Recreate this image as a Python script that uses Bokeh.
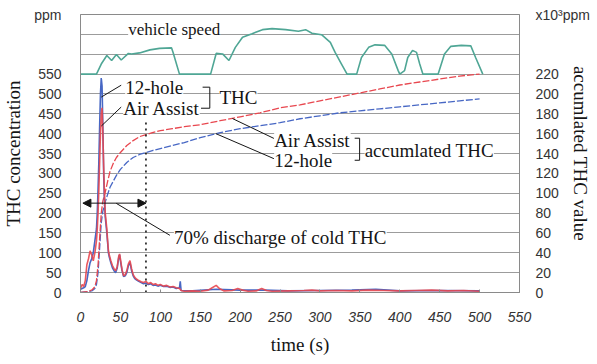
from bokeh.plotting import figure
from bokeh.models import (Range1d, LinearAxis, FixedTicker, Label, Arrow,
                          NormalHead)
from bokeh.embed import file_html
from bokeh.resources import INLINE

# ---------------- data ----------------
# instantaneous THC concentration, ppm
t_12hole = [0, 2, 4, 6, 8, 10, 12, 14, 16, 18, 20, 21, 22, 23, 24, 25, 26, 27, 28, 29,
            30, 31, 32, 33, 34, 35, 36, 38, 40, 42, 44, 46, 48, 49, 50, 52, 54, 56, 58, 60,
            62, 64, 66, 68, 70, 73, 76, 79, 82, 85, 88, 91, 94, 97, 100, 104, 108, 112, 116,
            120, 124, 125, 126, 140, 170, 200, 230, 260, 300, 340, 370, 400, 450, 500]
thc_12hole = [8, 10, 12, 15, 30, 55, 75, 85, 100, 130, 160, 200, 260, 330, 420, 500, 540, 520, 420, 300,
              230, 190, 170, 150, 125, 100, 90, 75, 62, 55, 50, 62, 90, 95, 80, 55, 40, 42, 50, 68,
              75, 55, 42, 35, 32, 28, 25, 22, 24, 20, 22, 18, 19, 16, 18, 15, 16, 13, 14,
              10, 12, 28, 5, 4, 8, 6, 6, 4, 5, 6, 8, 4, 5, 4]

t_air = [0, 2, 4, 6, 8, 10, 12, 14, 16, 18, 20, 21, 22, 23, 24, 25, 26, 27, 28, 29,
         30, 31, 32, 33, 34, 35, 36, 38, 40, 42, 44, 46, 48, 49, 50, 52, 54, 56, 58, 60,
         62, 64, 66, 68, 70, 73, 76, 79, 82, 85, 88, 91, 94, 97, 100, 104, 108, 112, 116,
         120, 124, 126, 130, 140, 150, 160, 165, 170, 174, 180, 190, 197, 203, 210, 220,
         227, 233, 240, 260, 280, 290, 300, 320, 340, 360, 380, 400, 420, 440, 460, 480, 500]
thc_air = [10, 20, 15, 30, 70, 85, 105, 95, 80, 100, 130, 160, 200, 260, 330, 400, 450, 465, 400, 320,
           250, 200, 180, 160, 130, 105, 95, 80, 68, 60, 55, 65, 92, 97, 85, 58, 42, 45, 55, 72,
           80, 60, 45, 38, 34, 30, 27, 25, 28, 22, 25, 20, 22, 18, 20, 16, 18, 14, 15,
           12, 10, 5, 3, 4, 3, 6, 12, 18, 10, 4, 5, 10, 6, 3, 4,
           10, 5, 3, 4, 5, 6, 4, 5, 4, 6, 5, 4, 5, 6, 4, 5, 3]

# accumulated THC, x10^3 ppm
t_acc = [0, 10, 15, 18, 20, 22, 24, 26, 28, 31, 34, 37, 41, 45, 50, 58, 66, 74, 82, 90,
         100, 115, 130, 150, 175, 200, 225, 250, 275, 300, 325, 350, 375, 400, 425, 450, 475, 500]
acc_air = [0, 1, 3, 6, 12, 28, 55, 80, 92, 101, 112, 122, 130, 136, 141, 148, 153, 157, 159, 161,
           163, 165, 167, 169, 173, 177, 181, 186, 189, 193, 197, 201, 205, 209, 212, 215, 218, 220]
acc_12hole = [0, 1, 2, 4, 8, 20, 45, 70, 82, 91, 99, 106, 112, 118, 124, 131, 136, 139, 141, 143,
              145, 148, 151, 156, 161, 165, 168, 171, 175, 178, 181, 183, 185, 187, 189, 191, 193, 195]

# vehicle speed, km/h
t_speed = [0, 20, 26, 33, 39, 45, 51, 60, 64, 74, 87, 99, 114, 116, 124, 163, 170, 178, 186,
           194, 203, 215, 228, 240, 257, 273, 282, 290, 302, 313, 319, 327, 334, 346, 352,
           361, 369, 381, 390, 398, 400, 406, 410, 416, 421, 425, 429, 448, 456, 464, 477,
           489, 495, 504]
speed = [0, 0, 20, 37, 27, 39, 28, 41, 40, 42, 48, 51, 52, 43, 0, 0, 41, 40, 27,
         53, 73, 80, 88, 90, 88, 85, 88, 81, 78, 63, 43, 20, 0, 0, 33,
         53, 58, 57, 40, 7, 0, 7, 33, 47, 43, 20, 0, 0, 40, 55, 57,
         56, 33, 0]

x_ticks = list(range(0, 551, 50))
left_ticks = list(range(0, 551, 50))
grid_levels = list(range(0, 701, 50))
right_ticks = list(range(0, 221, 20))
left_unit = "ppm"
right_unit = "x10³ppm"

# ---------------- styles ----------------
RED = "#e8474f"
BLUE = "#4767c4"
TEAL = "#4fa695"
GRID = "#9c9c9c"
SERIF = "Liberation Serif"
SANS = "Liberation Sans"
INK = "#151515"

p = figure(width=597, height=364, output_backend="svg", toolbar_location=None,
           x_range=Range1d(0, 550), y_range=Range1d(0, 700),
           min_border_left=77, min_border_right=78, min_border_top=14,
           min_border_bottom=72)
p.extra_y_ranges = {"acc": Range1d(0, 280), "speed": Range1d(-432, 118)}
p.background_fill_color = "white"
p.border_fill_color = "white"
p.outline_line_color = "#8a8a8a"

p.xgrid.visible = False
p.ygrid.ticker = FixedTicker(ticks=grid_levels)
p.ygrid.grid_line_color = GRID
p.ygrid.grid_line_width = 1

# left axis (unit caption sits at the top of the axis)
ya = p.yaxis[0]
ya.ticker = FixedTicker(ticks=left_ticks + [grid_levels[-1]])
ya.major_label_overrides = {grid_levels[-1]: left_unit}
ya.axis_line_color = "#8a8a8a"
ya.major_tick_line_color = None
ya.minor_tick_line_color = None
ya.major_label_text_font = SANS
ya.major_label_text_font_size = "14px"
ya.major_label_text_color = "#333"
ya.major_label_standoff = 13
ya.axis_label = "THC concentration"
ya.axis_label_text_font = SERIF
ya.axis_label_text_font_style = "normal"
ya.axis_label_text_font_size = "19px"
ya.axis_label_text_color = INK
ya.axis_label_standoff = 7

# bottom axis
xa = p.xaxis[0]
xa.ticker = FixedTicker(ticks=x_ticks)
xa.axis_line_color = "#8a8a8a"
xa.major_tick_in = 3
xa.major_tick_out = 0
xa.major_tick_line_color = "#8a8a8a"
xa.minor_tick_line_color = None
xa.major_label_text_font = SANS
xa.major_label_text_font_style = "italic"
xa.major_label_text_font_size = "14px"
xa.major_label_text_color = "#333"
xa.major_label_standoff = 19
xa.axis_label = "time (s)"
xa.axis_label_text_font = SERIF
xa.axis_label_text_font_style = "normal"
xa.axis_label_text_font_size = "19px"
xa.axis_label_text_color = INK
xa.axis_label_standoff = 9

# right axis (unit caption at the top)
ra = LinearAxis(y_range_name="acc",
                ticker=FixedTicker(ticks=right_ticks + [280]))
ra.major_label_overrides = {280: right_unit}
ra.axis_line_color = "#8a8a8a"
ra.major_tick_line_color = None
ra.minor_tick_line_color = None
ra.major_label_text_font = SANS
ra.major_label_text_font_size = "14px"
ra.major_label_text_color = "#333"
ra.major_label_standoff = 10
ra.axis_label = "accumlated THC value"
ra.axis_label_text_font = SERIF
ra.axis_label_text_font_style = "normal"
ra.axis_label_text_font_size = "19px"
ra.axis_label_text_color = INK
ra.axis_label_standoff = -23
p.add_layout(ra, "right")

# ---------------- data marks ----------------
p.line(t_speed, speed, y_range_name="speed", line_color=TEAL, line_width=1.6)
p.line(t_acc, acc_12hole, y_range_name="acc", line_color=BLUE, line_width=1.3,
       line_dash="7 2")
p.line(t_acc, acc_air, y_range_name="acc", line_color=RED, line_width=1.3,
       line_dash="7 2")
p.line(t_12hole, thc_12hole, line_color=BLUE, line_width=1.6)
p.line(t_air, thc_air, line_color=RED, line_width=1.6, line_alpha=0.9)

# ---------------- annotations ----------------
LEAD = dict(line_color=INK, line_width=1)
# leader lines
p.line([26, 51], [492, 522], **LEAD)
p.line([26, 51], [419, 467], **LEAD)
p.line([44.8, 112], [224.5, 144], **LEAD)
p.line([190.4, 242.3], [438, 388], **LEAD)
p.line([169.6, 242.3], [400, 337], **LEAD)
# brackets
p.line([153, 162, 162, 151], [517, 517, 464, 464], **LEAD)
p.line([343.5, 349.7, 349.7, 343.5], [388.5, 388.5, 333, 333], **LEAD)
# dotted 70 % marker
p.line([82, 82], [0, 430], line_color=INK, line_width=1.6, line_dash="2 4")
# double arrow
p.add_layout(Arrow(x_start=3, y_start=225, x_end=82, y_end=225,
                   line_color=INK, line_width=1,
                   start=NormalHead(size=8, fill_color=INK, line_color=INK),
                   end=NormalHead(size=8, fill_color=INK, line_color=INK)))


def label(x, y, text, size="19px", align="left", bg=True):
    lb = Label(x=x, y=y, text=text, text_font=SERIF, text_font_size=size,
               text_align=align, text_baseline="middle", text_color=INK,
               background_fill_color="white" if bg else None)
    p.add_layout(lb)


label(59.7, 661, "vehicle speed", size="17px")
label(56, 517, "12-hole")
label(53.5, 464, "Air Assist")
label(174, 492, "THC")
label(242.6, 383.5, "Air Assist")
label(242.6, 333, "12-hole")
label(356, 358, "accumlated THC")
label(117, 139, "70% discharge of cold THC")

open("out.html", "w").write(file_html(p, INLINE))
